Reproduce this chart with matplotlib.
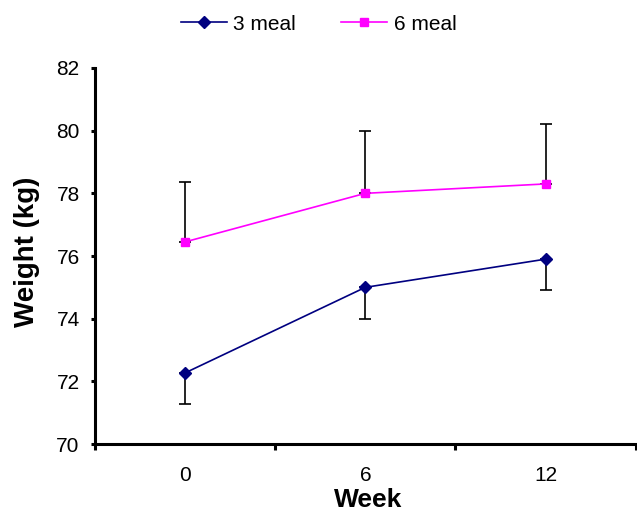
import matplotlib
matplotlib.use("Agg")
import matplotlib.pyplot as plt
import numpy as np

weeks = ["0", "6", "12"]
meal3 = [72.27, 75.0, 75.9]
meal3_err = [1.0, 1.0, 1.0]
meal6 = [76.45, 78.0, 78.3]
meal6_err = [1.9, 2.0, 1.9]

plt.rcParams['font.family'] = ['Liberation Sans', 'DejaVu Sans']

fig = plt.figure(figsize=(6.37, 5.11), dpi=100)
ax = fig.add_axes([0.149, 0.131, 0.849, 0.736])

x = np.arange(len(weeks)) + 0.5

# error bars only on one side, like the original
ax.errorbar(x, meal3, yerr=[meal3_err, [0] * len(meal3)], fmt='none',
            ecolor='black', elinewidth=1.2, capsize=4.5, capthick=1.2, zorder=2)
ax.errorbar(x, meal6, yerr=[[0] * len(meal6), meal6_err], fmt='none',
            ecolor='black', elinewidth=1.2, capsize=4.5, capthick=1.2, zorder=2)

ax.plot(x, meal3, color='#000080', marker='D', markersize=6, linewidth=1.2,
        label='3 meal', zorder=3)
ax.plot(x, meal6, color='#FF00FF', marker='s', markersize=6, linewidth=1.2,
        label='6 meal', zorder=3)

ax.set_xlim(0, len(weeks))
ax.set_ylim(70, 82)
ax.set_yticks(np.arange(70, 83, 2))

# category labels in the middle, ticks on the boundaries
ax.set_xticks(x)
ax.set_xticklabels(weeks)
ax.set_xticks(np.arange(len(weeks) + 1), minor=True)
ax.tick_params(axis='x', which='major', length=0, labelsize=15, pad=16)
ax.tick_params(axis='x', which='minor', length=4, width=2.2, direction='out')
ax.tick_params(axis='y', length=3, width=2.2, direction='out', labelsize=15, pad=8)

for side in ['top', 'right']:
    ax.spines[side].set_visible(False)
for side in ['left', 'bottom']:
    ax.spines[side].set_linewidth(2.2)

ax.set_ylabel('Weight (kg)', fontsize=20, fontweight='bold')
ax.yaxis.set_label_coords(-0.101, 0.51)
ax.set_xlabel('Week', fontsize=19, fontweight='bold', va='center')
ax.xaxis.set_label_coords(0.505, -0.15)

fig.legend(loc='center', bbox_to_anchor=(0.5, 0.953), ncol=2, frameon=False,
           fontsize=15, handlelength=2.2, handletextpad=0.3, columnspacing=2.2)

plt.savefig('out.png', dpi=100)
plt.close()
